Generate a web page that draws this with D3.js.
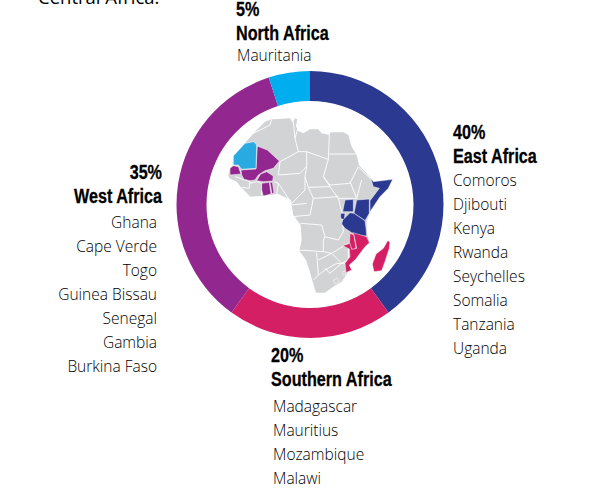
<!DOCTYPE html>
<html>
<head>
<meta charset="utf-8">
<script src="https://d3js.org/d3.v7.min.js"></script>
<style>
  html, body { margin: 0; padding: 0; background: #fff; }
  svg { display: block; }
  .head { font-family: "Liberation Sans", sans-serif; font-weight: 700; font-size: 21px; fill: #000; stroke: #000; stroke-width: 0.3px; }
  .item { font-family: "Open Sans", sans-serif; font-weight: 300; font-size: 15.5px; fill: #000; }
</style>
</head>
<body>
<div id="chart"></div>
<script>
// donut values
const regions = ['East Africa', 'Southern Africa', 'West Africa', 'North Africa'];
const shares = [40, 20, 35, 5];
const colors = ['#2B3990', '#D41F64', '#92278F', '#00AEEF'];

// countries listed beside each region
const eastList = ['Comoros', 'Djibouti', 'Kenya', 'Rwanda', 'Seychelles', 'Somalia', 'Tanzania', 'Uganda'];
const southList = ['Madagascar', 'Mauritius', 'Mozambique', 'Malawi'];
const westList = ['Ghana', 'Cape Verde', 'Togo', 'Guinea Bissau', 'Senegal', 'Gambia', 'Burkina Faso'];
const northList = ['Mauritania'];

// map outlines, in map units (0-600 across the inside of the ring)
const continent = [[130,100],[150,80],[165,65],[185,58],[205,57],[240,55],[248,68],[255,55],[262,58],[258,78],[263,92],[280,100],[300,88],[325,88],[335,100],[358,105],[362,97],[400,97],[415,105],[425,140],[440,165],[447,195],[465,215],[480,232],[490,245],[548,238],[535,265],[510,290],[480,335],[470,365],[472,405],[480,430],[465,440],[437,478],[418,495],[412,520],[395,545],[370,560],[345,578],[318,578],[308,545],[298,510],[288,480],[268,452],[275,420],[272,375],[250,345],[245,318],[243,300],[205,282],[175,285],[150,288],[120,290],[95,265],[80,245],[58,235],[55,225],[60,205],[72,195],[70,170]];
const east = [
  [[482,235],[490,245],[548,238],[535,265],[510,290],[480,335],[480,302],[508,265],[490,260]],
  [[440,300],[478,297],[478,340],[465,362],[432,340]],
  [[405,300],[430,298],[430,335],[398,335]],
  [[392,340],[405,340],[403,360],[392,355]],
  [[398,360],[420,338],[432,340],[465,362],[468,385],[470,408],[440,408],[425,398],[405,385],[395,372]]
];
const south = [
  [[420,400],[432,405],[438,445],[428,450],[418,435]],
  [[428,398],[470,410],[478,428],[465,440],[437,478],[418,495],[425,510],[408,518],[405,490],[420,470],[418,447],[398,437],[420,430],[425,448],[440,445],[432,405]],
  [[533,422],[540,425],[538,445],[525,485],[515,512],[492,515],[487,492],[498,462],[520,445]]
];
const west = [
  [[142,138],[172,150],[208,183],[190,205],[165,212],[145,225],[135,240],[120,242],[102,238],[95,225],[93,210],[138,207]],
  [[60,205],[70,197],[85,200],[93,222],[60,225]],
  [[140,242],[152,222],[170,215],[190,228],[188,243],[160,245]],
  [[155,250],[178,247],[183,282],[160,288],[155,270]],
  [[180,247],[187,247],[192,278],[186,282]]
];
const north = [[[70,168],[105,130],[132,125],[140,135],[138,205],[95,208],[85,195],[70,195]]];
const enclaves = [
  [[370,540],[382,535],[388,545],[376,552]],
  [[398,515],[406,512],[408,522],[400,526]]
];
const borders = [
  [[185,58],[180,75],[130,100],[105,125]],
  [[250,65],[255,115],[265,155],[210,185]],
  [[262,90],[255,115]],
  [[265,155],[290,155],[355,178],[358,105]],
  [[358,162],[440,162]],
  [[210,185],[205,225],[270,220],[290,200],[290,155]],
  [[355,178],[340,230],[360,260],[295,262],[285,230],[290,200]],
  [[340,230],[360,255],[420,250],[445,200]],
  [[445,200],[480,235]],
  [[360,260],[385,295],[440,295],[420,245]],
  [[295,262],[310,295],[385,290]],
  [[205,250],[245,310],[285,270],[285,230]],
  [[192,245],[205,250],[200,285]],
  [[75,230],[120,245],[118,265],[95,262]],
  [[118,250],[140,245],[155,250],[155,285]],
  [[95,265],[120,290]],
  [[310,295],[300,345],[250,350]],
  [[245,315],[290,310]],
  [[272,370],[335,375],[345,410],[385,420],[400,395],[395,335],[385,295]],
  [[265,450],[340,455],[340,420],[345,410]],
  [[340,455],[365,460],[415,430]],
  [[320,458],[325,525],[310,540]],
  [[325,480],[365,460],[395,490],[360,520],[345,505]],
  [[325,525],[345,510],[380,490],[405,490]],
  [[415,445],[415,480],[395,490]],
  [[440,295],[455,240]]
];

const width = 591, height = 492;
const cx = 310, cy = 204.5;
const outer = 133.5, inner = 103.5;
const headSqueeze = 0.77;

const svg = d3.select('#chart').append('svg')
  .attr('width', width)
  .attr('height', height);

// map
const mapX = d3.scaleLinear().domain([0, 600]).range([210, 410]);
const mapY = d3.scaleLinear().domain([0, 630]).range([100, 310]);
const line = d3.line().x(d => mapX(d[0])).y(d => mapY(d[1]));
const shape = d => line(d) + 'Z';

const map = svg.append('g');
map.append('path').attr('d', shape(continent)).attr('fill', '#D1D3D4');
map.selectAll('.border').data(borders).enter().append('path')
  .attr('class', 'border')
  .attr('d', d => line(d))
  .attr('fill', 'none')
  .attr('stroke', '#fff')
  .attr('stroke-width', 0.9);

function drawCountries(list, color) {
  map.append('g').selectAll('path').data(list).enter().append('path')
    .attr('d', shape)
    .attr('fill', color)
    .attr('stroke', '#fff')
    .attr('stroke-width', 0.5);
}
drawCountries(enclaves, '#D1D3D4');
drawCountries(east, colors[0]);
drawCountries(south, colors[1]);
drawCountries(west, colors[2]);
drawCountries(north, '#29ABE2');

// ring
const pie = d3.pie().sort(null).value(d => d);
const arc = d3.arc().innerRadius(inner).outerRadius(outer);
svg.append('g')
  .attr('transform', 'translate(' + cx + ',' + cy + ')')
  .selectAll('path')
  .data(pie(shares))
  .enter()
  .append('path')
  .attr('d', arc)
  .attr('fill', (d, i) => colors[i]);

// labels
function head(g, x, y, txt) {
  g.append('text').attr('class', 'head')
    .attr('transform', 'translate(' + x + ',' + y + ') scale(' + headSqueeze + ',1)')
    .text(txt);
}
function label(i, x, y, list, listX, listY, anchor) {
  const g = svg.append('g').attr('text-anchor', anchor);
  head(g, x, y, shares[i] + '%');
  head(g, x, y + 24, regions[i]);
  g.selectAll('.item').data(list).enter().append('text')
    .attr('class', 'item')
    .attr('x', listX)
    .attr('y', (d, k) => listY + k * 24)
    .text(d => d);
}
label(0, 453, 139, eastList, 453, 186, 'start');
label(1, 271, 362, southList, 273, 412, 'start');
label(2, 162, 179, westList, 157, 228, 'end');
label(3, 236, 16, northList, 237, 61, 'start');

// cut-off line of text above the chart
svg.append('text').attr('class', 'item').attr('x', 38).attr('y', 4)
  .style('font-size', '18.5px').style('font-weight', 400).text('Central Africa.');
</script>
</body>
</html>
